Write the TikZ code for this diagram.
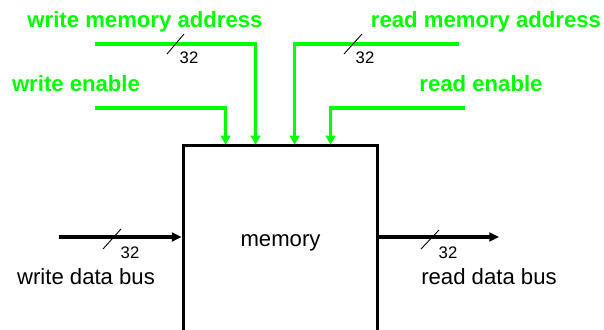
\documentclass[tikz,border=0pt]{standalone}
\usepackage{fontspec}
\setmainfont{Liberation Sans}
\usetikzlibrary{arrows.meta,calc}
\tikzset{
  ctl/.style={draw=green, line width=1.9pt, -{Triangle[length=5pt,width=5.5pt]}},
  dbus/.style={draw=black, line width=1.8pt, -{Triangle[length=5.5pt,width=5pt]}},
  slash/.style={draw=black, line width=0.5pt},
  ctllbl/.style={text=green, font=\fontsize{12.6}{14}\selectfont\bfseries, inner sep=0pt},
  buslbl/.style={font=\fontsize{12.6}{14}\selectfont, inner sep=0pt},
  width/.style={font=\fontsize{9.5}{11}\selectfont, inner sep=0pt},
  membox/.style={draw, line width=1.7pt, minimum width=3.9cm, minimum height=3.92cm,
    font=\fontsize{12.6}{14}\selectfont}
}
\begin{document}
\begin{tikzpicture}[x=0.02cm,y=-0.02cm]
\clip (0,0) rectangle (604,329);

\node[membox] (mem) at (280.5,243) {memory};

% control inputs
\coordinate (wa) at (95,44);
\coordinate (we) at (95,108);
\coordinate (ra) at (459,44);
\coordinate (re) at (465,108);
\draw[ctl] (we) -| ($(mem.north west)+(44,1)$);
\draw[ctl] (wa) -| ($(mem.north west)+(74,1)$);
\draw[ctl] (ra) -| ($(mem.north west)+(113,1)$);
\draw[ctl] (re) -| ($(mem.north west)+(149,1)$);

\node[ctllbl, anchor=base] (walbl) at (145,27) {write memory address};
\node[ctllbl, anchor=base] (welbl) at (76,91) {write enable};
\node[ctllbl, anchor=base] (ralbl) at (486,27) {read memory address};
\node[ctllbl, anchor=base] (relbl) at (481,91) {read enable};

% data buses
\coordinate (wd) at (59,237);
\coordinate (rd) at (499,237);
\draw[dbus] (wd) -- (wd -| mem.west);
\draw[dbus] (rd -| mem.east) -- (rd);

\node[buslbl, anchor=base] (wdlbl) at (86,284) {write data bus};
\node[buslbl, anchor=base] (rdlbl) at (489,284) {read data bus};

% bus widths
\draw[slash] (167,54) -- (184,34);
\draw[slash] (344,54) -- (362,34);
\draw[slash] (103,249) -- (121,229);
\draw[slash] (421,249) -- (439,230);
\node[width, anchor=base] (wan) at (189,63) {32};
\node[width, anchor=base] (ran) at (365,63) {32};
\node[width, anchor=base] (wdn) at (130,258) {32};
\node[width, anchor=base] (rdn) at (448,258) {32};
\end{tikzpicture}
\end{document}
